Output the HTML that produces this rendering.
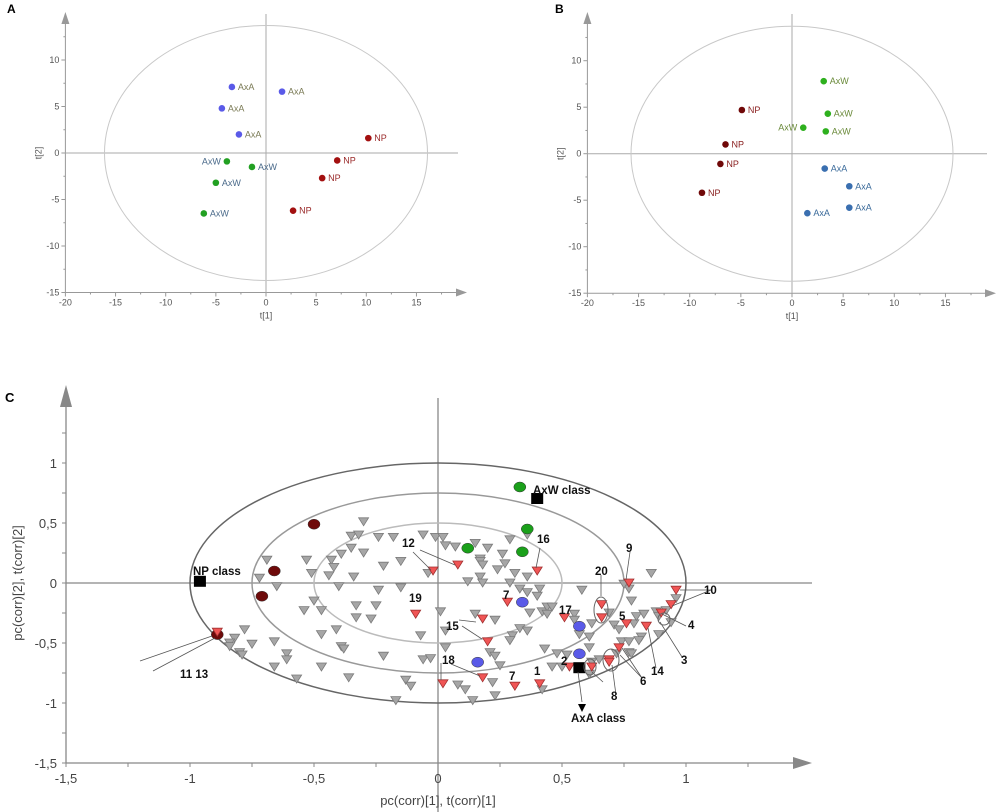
<!DOCTYPE html>
<html><head><meta charset="utf-8"><style>
body{margin:0;background:#fff;}
svg{display:block;font-family:"Liberation Sans",sans-serif;}
</style></head><body>
<svg id="fig" width="1000" height="812" viewBox="0 0 1000 812"></svg>
<script>
// ---------- Panel A data ----------
const aGroups = ["AxA","AxW","NP"];
const aX_AxA = [-3.4, 1.6, -4.4, -2.7];
const aY_AxA = [7.1, 6.6, 4.8, 2.0];
const aX_AxW = [-3.9, -1.4, -5.0, -6.2];
const aY_AxW = [-0.9, -1.5, -3.2, -6.5];
const aX_NP = [10.2, 7.1, 5.6, 2.7];
const aY_NP = [1.6, -0.8, -2.7, -6.2];
// ---------- Panel B data ----------
const bX_AxW = [3.1, 3.5, 1.1, 3.3];
const bY_AxW = [7.8, 4.3, 2.8, 2.4];
const bX_NP = [-4.9, -6.5, -7.0, -8.8];
const bY_NP = [4.7, 1.0, -1.1, -4.2];
const bX_AxA = [3.2, 5.6, 5.6, 1.5];
const bY_AxA = [-1.6, -3.5, -5.8, -6.4];
const abXTicks = [-20,-15,-10,-5,0,5,10,15];
const abYTicks = [10,5,0,-5,-10,-15];
// ---------- Panel C data ----------
const cGrayTri = [[-0.30,0.51],[-0.35,0.39],[-0.32,0.40],[-0.24,0.38],[-0.18,0.38],[-0.06,0.40],[-0.01,0.38],[0.02,0.38],[0.03,0.31],[0.07,0.30],[0.15,0.33],[0.20,0.29],[0.29,0.36],[0.36,0.40],[-0.35,0.29],[-0.39,0.24],[-0.30,0.25],[-0.43,0.19],[-0.53,0.19],[-0.69,0.19],[-0.42,0.13],[-0.51,0.08],[-0.44,0.06],[-0.34,0.05],[-0.22,0.14],[-0.15,0.18],[-0.04,0.08],[0.17,0.20],[0.17,0.18],[0.18,0.15],[0.26,0.24],[0.24,0.11],[0.27,0.16],[0.31,0.08],[0.36,0.05],[0.12,0.01],[0.17,0.05],[0.18,0.00],[0.29,0.00],[0.33,-0.05],[0.36,-0.08],[0.41,-0.05],[0.40,-0.11],[0.37,-0.25],[0.42,-0.24],[0.44,-0.20],[-0.72,0.04],[-0.65,-0.03],[-0.40,-0.03],[-0.24,-0.06],[-0.15,-0.04],[-0.50,-0.15],[-0.54,-0.23],[-0.47,-0.23],[-0.33,-0.19],[-0.25,-0.19],[-0.33,-0.29],[-0.27,-0.30],[0.01,-0.24],[0.15,-0.26],[0.23,-0.31],[0.33,-0.38],[0.36,-0.40],[-0.78,-0.39],[-0.82,-0.46],[-0.84,-0.50],[-0.84,-0.53],[-0.80,-0.58],[-0.79,-0.60],[-0.75,-0.51],[-0.66,-0.49],[-0.47,-0.43],[-0.41,-0.39],[-0.39,-0.53],[-0.38,-0.55],[-0.61,-0.59],[-0.61,-0.64],[-0.66,-0.70],[-0.57,-0.80],[-0.47,-0.70],[-0.36,-0.79],[-0.22,-0.61],[-0.07,-0.44],[0.03,-0.40],[0.03,-0.54],[-0.06,-0.64],[-0.03,-0.63],[-0.13,-0.81],[-0.11,-0.86],[0.08,-0.85],[0.11,-0.89],[0.22,-0.83],[0.30,-0.44],[0.29,-0.48],[0.21,-0.58],[0.23,-0.61],[0.25,-0.69],[0.43,-0.55],[-0.17,-0.98],[0.14,-0.98],[0.23,-0.94],[0.42,-0.89],
[0.46,-0.20],[0.55,-0.26],[0.58,-0.06],[0.77,-0.05],[0.75,-0.01],[0.86,0.08],[0.78,-0.15],[0.55,-0.31],[0.57,-0.43],[0.61,-0.45],[0.62,-0.34],[0.69,-0.25],[0.71,-0.35],[0.73,-0.39],[0.79,-0.34],[0.80,-0.28],[0.83,-0.26],[0.88,-0.24],[0.89,-0.28],[0.92,-0.23],[0.96,-0.13],[0.94,-0.33],[0.89,-0.43],[0.82,-0.45],[0.81,-0.48],[0.74,-0.49],[0.77,-0.49],[0.77,-0.58],[0.72,-0.59],[0.48,-0.59],[0.52,-0.60],[0.61,-0.54],[0.65,-0.64],[0.46,-0.70],[0.50,-0.70],[0.62,-0.66],[0.61,-0.76],[0.78,-0.59],[0.44,-0.26]];
const cRedTri = [[-0.02,0.10],[0.08,0.15],[-0.09,-0.26],[0.28,-0.16],[0.18,-0.30],[0.20,-0.49],[0.18,-0.79],[0.02,-0.84],[0.31,-0.86],[0.41,-0.84],[0.40,0.10],[-0.89,-0.41],[0.51,-0.29],[0.66,-0.18],[0.66,-0.29],[0.77,0.00],[0.96,-0.06],[0.94,-0.18],[0.90,-0.25],[0.84,-0.36],[0.76,-0.34],[0.73,-0.54],[0.69,-0.64],[0.69,-0.66],[0.53,-0.70],[0.62,-0.70]];
const cNPObs = [[-0.50,0.49],[-0.66,0.10],[-0.71,-0.11],[-0.89,-0.43]];
const cAxWObs = [[0.33,0.80],[0.36,0.45],[0.12,0.29],[0.34,0.26]];
const cAxAObs = [[0.34,-0.16],[0.16,-0.66],[0.57,-0.36],[0.57,-0.59]];
const cClassNames = ["NP class","AxW class","AxA class"];
const cClassPts = [[-0.96,0.01],[0.40,0.70],[0.57,-0.71]];
const cXTicks = [-1.5,-1,-0.5,0,0.5,1];
const cYTicks = [1,0.5,0,-0.5,-1,-1.5];
const cRadii = [1,0.75,0.5];

const NS="http://www.w3.org/2000/svg";
const svg=document.getElementById('fig');
function el(tag,attrs,parent,text){const e=document.createElementNS(NS,tag);for(const k in attrs)e.setAttribute(k,attrs[k]);if(text!==undefined)e.textContent=text;(parent||svg).appendChild(e);return e;}
function fmt(v){return String(v).replace('.',',');}

// ---------- scatter panels A & B ----------
function panel(cfg){
  const g=el('g',{});
  
  
  const sx=v=>cfg.x0+v*cfg.kx, sy=v=>cfg.y0-v*cfg.ky;
  const L=sx(-20), B=sy(-15);
  // axes
  const ya=el('line',{x1:L,y1:B,x2:L,y2:22,stroke:'#999','stroke-width':1},g);
  
  el('polygon',{points:`${L-4},24 ${L+4},24 ${L},12`,fill:'#999'},g);
  const xa=el('line',{x1:L,y1:B,x2:cfg.xEnd,y2:B,stroke:'#999','stroke-width':1},g);
  
  el('polygon',{points:`${cfg.xEnd-2},${B-4} ${cfg.xEnd-2},${B+4} ${cfg.xEnd+9},${B}`,fill:'#999'},g);
  // zero lines
  el('line',{x1:sx(0),y1:14,x2:sx(0),y2:B,stroke:'#aaa'},g);
  el('line',{x1:L,y1:sy(0),x2:cfg.xEnd,y2:sy(0),stroke:'#aaa'},g);
  // ellipse
  const ell=el('ellipse',{cx:sx(0),cy:sy(0),rx:cfg.erx,ry:cfg.ery,fill:'none',stroke:'#c8c8c8','stroke-width':1},g);
  
  for(let v=-20;v<=17.5;v+=2.5){el('line',{x1:sx(v),y1:B,x2:sx(v),y2:B+(v%5===0?4:2),stroke:'#999'},g);}
  for(let v=-15;v<=12.5;v+=2.5){el('line',{x1:L,y1:sy(v),x2:L-(v%5===0?4:2),y2:sy(v),stroke:'#999'},g);}
  abXTicks.forEach(v=>{const t=el('text',{x:sx(v),y:B+13,'font-size':9,fill:'#555','text-anchor':'middle'},g,v);
    });
  abYTicks.forEach(v=>{const t=el('text',{x:L-6,y:sy(v)+3,'font-size':9,fill:'#555','text-anchor':'end'},g,v);
    });
  const xt=el('text',{x:sx(0),y:B+26,'font-size':9,fill:'#555','text-anchor':'middle'},g,'t[1]');
  
  const yt=el('text',{x:0,y:0,'font-size':9,fill:'#555','text-anchor':'middle',transform:`translate(${L-24},${sy(0)}) rotate(-90)`},g,'t[2]');
  
  cfg.series.forEach(s=>{
    s.xs.forEach((xv,i)=>{
      const c=el('circle',{cx:sx(xv),cy:sy(s.ys[i]),r:3.3,fill:s.color},g);
      
      
      const left=(s.leftIdx===i);
      const t=el('text',{x:sx(xv)+(left?-6:6),y:sy(s.ys[i])+3,'font-size':9,fill:s.tcolor,'text-anchor':left?'end':'start'},g,s.label);
      
      
    });
  });
  const pl=el('text',{x:cfg.letterX,y:13,'font-size':12,'font-weight':'bold',fill:'#000'},g,cfg.letter);
  
}
panel({name:'panel-a',letter:'A',letterX:7,x0:266,kx:10.03,y0:153,ky:9.3,xEnd:458,erx:161.5,ery:127.5,
  series:[{label:'AxA',xs:aX_AxA,ys:aY_AxA,color:'#5a5ae8',tcolor:'#7a7a55'},
          {label:'AxW',xs:aX_AxW,ys:aY_AxW,color:'#22a022',tcolor:'#4a6a8a',leftIdx:0},
          {label:'NP',xs:aX_NP,ys:aY_NP,color:'#a31010',tcolor:'#9a2a2a'}]});
panel({name:'panel-b',letter:'B',letterX:555,x0:792,kx:10.23,y0:153.7,ky:9.3,xEnd:987,erx:161,ery:127.5,
  series:[{label:'AxW',xs:bX_AxW,ys:bY_AxW,color:'#2eb01e',tcolor:'#6a8a3a',leftIdx:2},
          {label:'NP',xs:bX_NP,ys:bY_NP,color:'#700808',tcolor:'#8a2020'},
          {label:'AxA',xs:bX_AxA,ys:bY_AxA,color:'#3a6fb0',tcolor:'#3a6a9a'}]});

// ---------- Panel C ----------
const gc=el('g',{});


const CX0=438, CKX=248, CY0=583, CKY=120;
const cx=v=>CX0+v*CKX, cy=v=>CY0-v*CKY;
const CL=cx(-1.5), CB=cy(-1.5);
const lc=el('text',{x:5,y:402,'font-size':13,'font-weight':'bold'},gc,'C');

const cya=el('line',{x1:CL,y1:CB,x2:CL,y2:405,stroke:'#888','stroke-width':1.3},gc);

el('polygon',{points:`${CL-6},407 ${CL+6},407 ${CL},385`,fill:'#888'},gc);
const cxa=el('line',{x1:CL,y1:CB,x2:795,y2:CB,stroke:'#888','stroke-width':1.3},gc);

el('polygon',{points:`793,${CB-6} 793,${CB+6} 812,${CB}`,fill:'#888'},gc);
el('line',{x1:cx(0),y1:398,x2:cx(0),y2:812,stroke:'#888','stroke-width':1.3},gc);
el('line',{x1:CL,y1:cy(0),x2:812,y2:cy(0),stroke:'#888','stroke-width':1.3},gc);
for(let v=-1.5;v<=1.25;v+=0.25){el('line',{x1:cx(v),y1:CB,x2:cx(v),y2:CB+4,stroke:'#888'},gc);}
for(let v=-1.5;v<=1.25;v+=0.25){el('line',{x1:CL,y1:cy(v),x2:CL-4,y2:cy(v),stroke:'#888'},gc);}
cXTicks.forEach(v=>{const t=el('text',{x:cx(v),y:CB+20,'font-size':13,fill:'#444','text-anchor':'middle'},gc,fmt(v));
  });
cYTicks.forEach(v=>{const t=el('text',{x:CL-9,y:cy(v)+5,'font-size':13,fill:'#444','text-anchor':'end'},gc,fmt(v));
  });
const cxt=el('text',{x:cx(0),y:805,'font-size':13,fill:'#444','text-anchor':'middle'},gc,'pc(corr)[1], t(corr)[1]');

const cyt=el('text',{x:0,y:0,'font-size':13,fill:'#444','text-anchor':'middle',transform:`translate(22,${cy(0)}) rotate(-90)`},gc,'pc(corr)[2], t(corr)[2]');

const ellCols=['#666','#999','#bbb'];
cRadii.forEach((r,i)=>{const e=el('ellipse',{cx:cx(0),cy:cy(0),rx:r*CKX,ry:r*CKY,fill:'none',stroke:ellCols[i],'stroke-width':1.5},gc);
  });
function tri(p,fill,stroke,name){
  const x=cx(p[0]),y=cy(p[1]);
  const t=el('polygon',{points:`${x-5},${y-4} ${x+5},${y-4} ${x},${y+4}`,fill:fill,stroke:stroke,'stroke-width':0.8},gc);
  
  
}
cGrayTri.forEach(p=>tri(p,'#a6a6a6','#7a7a7a','variable-marker'));
function obs(arr,col,name){arr.forEach(p=>{const c=el('ellipse',{cx:cx(p[0]),cy:cy(p[1]),rx:6,ry:5,fill:col,stroke:'#333','stroke-width':0.5},gc);
  
  });}
obs(cNPObs,'#6e0a0a','np-observation');
obs(cAxWObs,'#1aa01a','axw-observation');
obs(cAxAObs,'#5a5ae8','axa-observation');
cRedTri.forEach(p=>tri(p,'#f05555','#a03030','significant-marker'));
cClassPts.forEach((p,i)=>{const r=el('rect',{x:cx(p[0])-6,y:cy(p[1])-6,width:12,height:11,fill:'#000'},gc);
  
  });
// annotations
const annLines=[[413,552,431,570],[420,550,455,565],[540,548,536,568],[630,552,626,580],[601,575,601,596],[711,590,680,590],[711,590,672,606],[686,626,662,614],[682,657,660,622],[656,668,648,628],[642,678,622,648],[642,678,620,655],[616,695,612,665],[603,682,592,672],[462,626,482,639],[459,620,476,622],[451,664,480,676],[441,663,441,680],[140,661,212,636],[153,671,215,638],[578,672,582,702]];
annLines.forEach(l=>{const a=el('line',{x1:l[0],y1:l[1],x2:l[2],y2:l[3],stroke:'#555','stroke-width':0.8},gc);
  });
el('polygon',{points:'578,704 586,704 582,712',fill:'#000'},gc);
[[601,610,7,13],[590,667,6,8],[611,660,8,11],[664,619,6,6]].forEach(e=>{const o=el('ellipse',{cx:e[0],cy:e[1],rx:e[2],ry:e[3],fill:'none',stroke:'#666'},gc);
  });
const annTexts=[['NP class',193,575],['AxW class',533,494],['AxA class',571,722],['12',402,547],['16',537,543],['9',626,552],['20',595,575],['10',704,594],['4',688,629],['3',681,664],['14',651,675],['6',640,685],['8',611,700],['5',619,620],['17',559,614],['7',503,599],['19',409,602],['15',446,630],['18',442,664],['7',509,680],['1',534,675],['2',561,665],['11 13',180,678]];
annTexts.forEach(a=>{const t=el('text',{x:a[1],y:a[2],'font-size':11.5,'font-weight':'bold',fill:'#111'},gc,a[0]);
  });
</script>
</body></html>
